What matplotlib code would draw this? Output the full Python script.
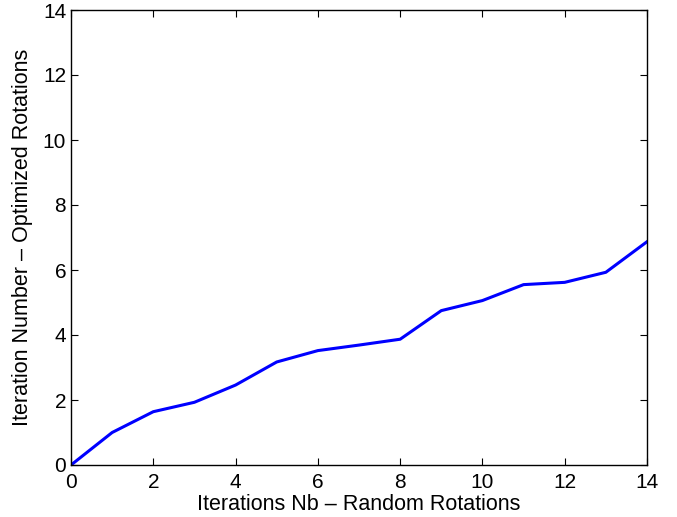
import matplotlib
matplotlib.use("Agg")
import matplotlib.pyplot as plt

x_iter = list(range(15))
y_opt = [0.0, 1.00, 1.64, 1.93, 2.46, 3.17, 3.52, 3.69, 3.87, 4.75, 5.06, 5.55, 5.62, 5.93, 6.87]
x_ticks = [0, 2, 4, 6, 8, 10, 12, 14]
y_ticks = [0, 2, 4, 6, 8, 10, 12, 14]

plt.rcParams['font.family'] = ['Liberation Sans', 'DejaVu Sans']

fig = plt.figure(figsize=(6.77, 5.17), dpi=100)
ax = fig.add_axes([71/677, 52/517, 576/677, 455/517])
ax.plot(x_iter, y_opt, color='#0000ff', linewidth=2.2)
ax.set_xlim(0, 14)
ax.set_ylim(0, 14)
ax.set_xticks(x_ticks)
ax.set_yticks(y_ticks)
ax.tick_params(direction='in', top=True, right=True, labelsize=15, length=5, width=0.8)
ax.tick_params(axis='x', pad=6)
ax.tick_params(axis='y', pad=3.5)
for s in ax.spines.values():
    s.set_linewidth(1.0)
ax.set_xlabel('Iterations Nb \u2013 Random Rotations', fontsize=15.5, labelpad=1)
ax.set_ylabel('Iteration Number \u2013 Optimized Rotations', fontsize=15.5, labelpad=7)
fig.savefig('out.png', dpi=100)
